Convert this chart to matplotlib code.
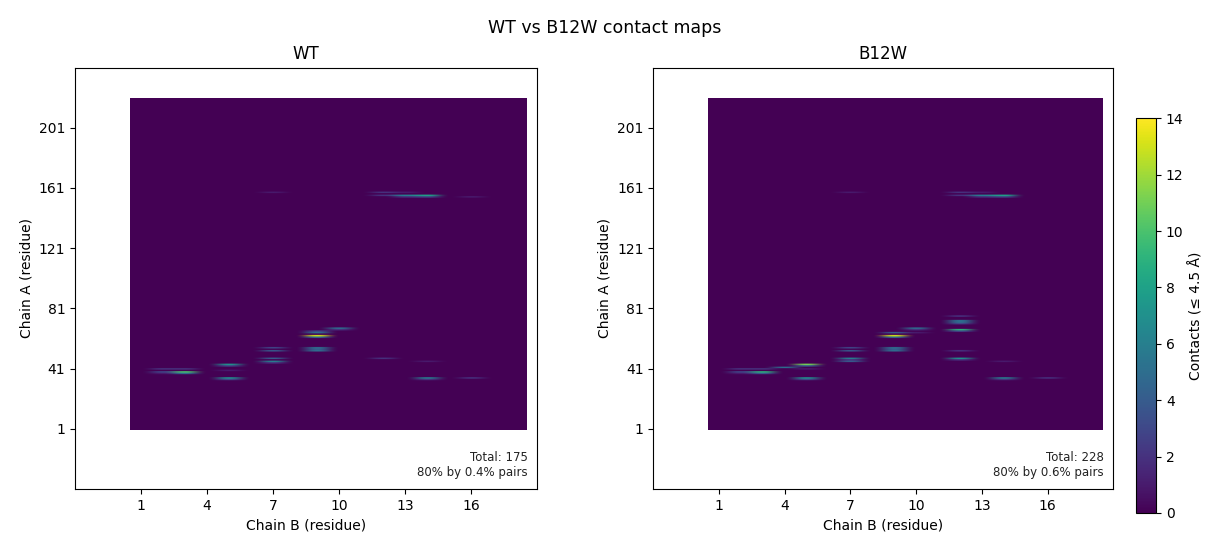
import numpy as np
import matplotlib
matplotlib.use("Agg")
import matplotlib.pyplot as plt

# matrix size: chain A residues x chain B residues
n_chain_a = 220
n_chain_b = 18

# contacts: (chain A residue, chain B residue, count)
wt_a = [41, 41, 39, 39, 38, 38,
        44, 43, 40, 35, 34,
        55, 53, 48, 46, 45,
        66, 65, 63, 62, 55, 54, 53,
        68, 67, 48, 46, 35, 34, 35,
        158, 158, 158, 156, 156, 156, 155, 155, 155]
wt_b = [2, 3, 2, 3, 3, 2,
        5, 5, 5, 5, 5,
        7, 7, 7, 7, 7,
        9, 9, 9, 9, 9, 9, 9,
        10, 10, 12, 14, 14, 14, 16,
        7, 12, 13, 12, 13, 14, 14, 13, 16]
wt_n = [2, 2, 3, 10, 5, 1,
        7, 3, 1, 7, 3,
        3, 4, 4, 6, 2,
        3, 5, 13, 5, 5, 4, 5,
        5, 2, 2, 1, 6, 2, 2,
        1, 2, 1, 2, 6, 8, 3, 2, 1]

mut_a = [41, 41, 39, 39, 38, 38, 42,
         44, 43, 41, 35, 34,
         55, 53, 48, 47, 46,
         65, 63, 62, 55, 54, 53,
         68, 67, 65,
         76, 73, 72, 71, 67, 66, 53, 48, 47,
         46, 35, 34, 35,
         158, 158, 158, 156, 156, 156, 155, 155]
mut_b = [2, 3, 2, 3, 3, 2, 4,
         5, 5, 5, 5, 5,
         7, 7, 7, 7, 7,
         9, 9, 9, 9, 9, 9,
         10, 10, 10,
         12, 12, 12, 12, 12, 12, 12, 12, 12,
         14, 14, 14, 16,
         7, 12, 13, 12, 13, 14, 14, 13]
mut_n = [2, 2, 3, 9, 4, 1, 5,
         11, 4, 1, 7, 3,
         3, 4, 6, 2, 4,
         4, 13, 5, 5, 4, 5,
         5, 2, 1,
         2, 5, 5, 3, 9, 3, 2, 7, 2,
         1, 6, 2, 2,
         1, 2, 1, 2, 6, 8, 3, 2]

titles = ["WT", "B12W"]
totals = ["Total: 175\n80% by 0.4% pairs", "Total: 228\n80% by 0.6% pairs"]
x_ticks = [1, 4, 7, 10, 13, 16]
y_ticks = [1, 41, 81, 121, 161, 201]


def build_matrix(res_a, res_b, counts):
    m = np.zeros((n_chain_a, n_chain_b))
    for a, b, n in zip(res_a, res_b, counts):
        m[a - 1, b - 1] += n
    return m


mats = [build_matrix(wt_a, wt_b, wt_n), build_matrix(mut_a, mut_b, mut_n)]
vmax = 14

fig = plt.figure(figsize=(12.1, 5.4), dpi=100)
axes = [fig.add_axes([0.062, 0.094, 0.382, 0.781]),
        fig.add_axes([0.540, 0.094, 0.380, 0.781])]
cax = fig.add_axes([0.939, 0.05, 0.0165, 0.731])

for ax, m, title, txt in zip(axes, mats, titles, totals):
    im = ax.imshow(m, origin="lower", aspect="auto", cmap="viridis", vmin=0, vmax=vmax,
                   extent=(0.5, n_chain_b + 0.5, 0.5, n_chain_a + 0.5))
    ax.set_xlim(-2, 19)
    ax.set_ylim(-39, 241)
    ax.set_xticks(x_ticks)
    ax.set_yticks(y_ticks)
    ax.set_title(title)
    ax.set_xlabel("Chain B (residue)")
    ax.set_ylabel("Chain A (residue)")
    ax.text(0.98, 0.025, txt, transform=ax.transAxes, ha="right", va="bottom",
            fontsize=8.5, color="#222222")

cb = fig.colorbar(im, cax=cax)
cb.set_label("Contacts (≤ 4.5 Å)")

fig.suptitle("WT vs B12W contact maps", y=0.965, fontsize=12.5)

fig.savefig("out.png", dpi=100)
